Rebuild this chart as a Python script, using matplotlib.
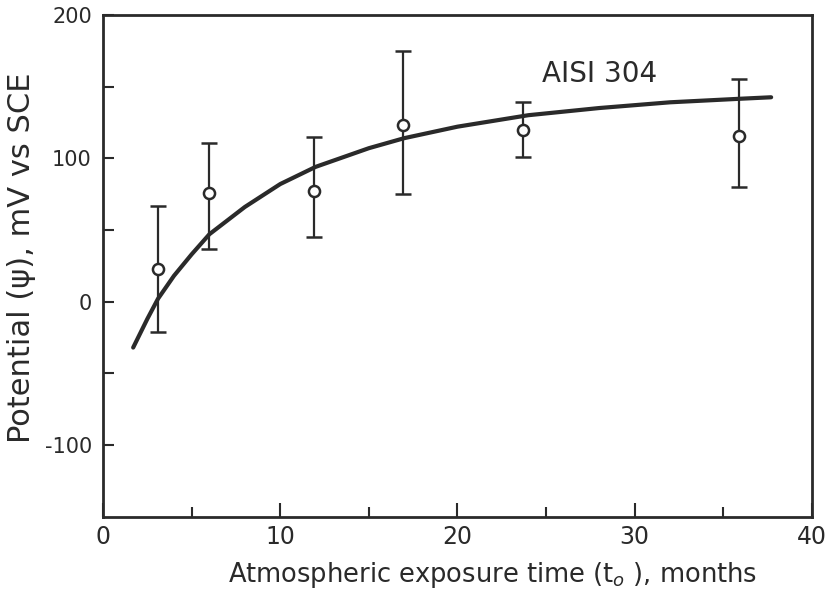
import matplotlib
matplotlib.use("Agg")
import matplotlib.pyplot as plt
from matplotlib.ticker import MultipleLocator, FixedLocator

# data points (months, mV)
months = [3.1, 6.0, 11.9, 16.9, 23.7, 35.9]
potential = [23, 76, 77, 123, 120, 115.5]
err_upper = [67, 110.5, 115, 175, 139.5, 155]
err_lower = [-21, 37, 45, 75, 101, 80]

# fitted curve
curve_months = [1.7, 2.5, 3.1, 4.0, 5.0, 6.0, 8.0, 10.0, 12.0, 15.0, 17.0, 20.0, 24.0, 28.0, 32.0, 36.0, 37.7]
curve_mv = [-32, -12, 2, 18, 33, 47, 66, 82, 94, 107, 114, 122, 130, 135, 139, 141.5, 142.5]

x_ticks = [0, 10, 20, 30, 40]
y_ticks = [200, 100, 0, -100]
y_tick_labels = ["200", "100", "0", "-100"]

fig = plt.figure(figsize=(8.31, 5.92), dpi=100)
ax = fig.add_axes([0.124, 0.127, 0.853, 0.848])

ink = "#2a2a2a"
ax.plot(curve_months, curve_mv, color=ink, lw=3.0, solid_capstyle="round", zorder=3)

yerr_lo = [p - l for p, l in zip(potential, err_lower)]
yerr_hi = [u - p for p, u in zip(potential, err_upper)]
ax.errorbar(months, potential, yerr=[yerr_lo, yerr_hi], fmt="o", ms=8,
            mfc="white", mec=ink, mew=1.8, ecolor=ink, elinewidth=1.6,
            capsize=6, capthick=2.2, zorder=4)

ax.set_xlim(0, 40)
ax.set_ylim(-150, 200)

for s in ax.spines.values():
    s.set_linewidth(2.0)
    s.set_color(ink)

ax.set_xticks(x_ticks)
ax.set_xticklabels([str(v) for v in x_ticks], color=ink)
ax.xaxis.set_minor_locator(MultipleLocator(5))
ax.set_yticks(y_ticks)
ax.set_yticklabels(y_tick_labels, color=ink)
ax.yaxis.set_minor_locator(FixedLocator([150, 50, -50]))

ax.tick_params(axis="x", which="major", direction="in", length=10, width=1.5, colors=ink,
               labelsize=17, pad=6, top=False)
ax.tick_params(axis="x", which="minor", direction="in", length=7, width=1.5, colors=ink, top=False)
ax.tick_params(axis="y", which="both", direction="in", length=8, width=1.5, colors=ink,
               labelsize=15, pad=8, right=False)

ax.set_xlabel("Atmospheric exposure time (t$_{o}$ ), months", fontsize=18.5, color=ink,
              va="center")
ax.xaxis.set_label_coords(0.549, -0.116)
ax.set_ylabel("Potential (\u03c8), mV vs SCE", fontsize=22, color=ink)
ax.yaxis.set_label_coords(-0.095, 0.517)

ax.text(28.0, 159, "AISI 304", ha="center", va="center", fontsize=20, color=ink)

fig.savefig("out.png", dpi=100)
